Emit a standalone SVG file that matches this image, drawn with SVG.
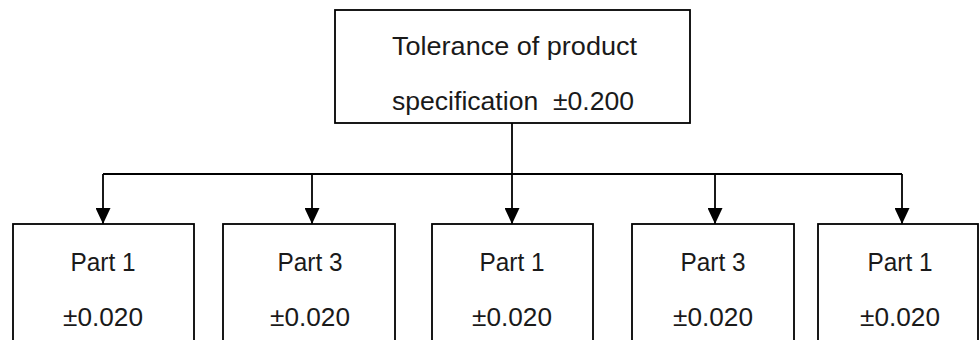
<svg xmlns="http://www.w3.org/2000/svg" width="979" height="340" viewBox="0 0 979 340">
  <style>
    .box { fill: none; stroke: #000; stroke-width: 1.8; }
    .wire { fill: none; stroke: #000; stroke-width: 1.8; }
    .lbl { font-family: "Liberation Sans", Arial, sans-serif; fill: #1a1a1a; white-space: pre; }
    .top { font-size: 26px; }
    .part { font-size: 25px; text-anchor: middle; }
  </style>
  <defs>
    <!-- filled triangle pointing along the line direction -->
    <marker id="arrow" viewBox="0 0 16 15" refX="16" refY="7.5" markerWidth="16" markerHeight="15" markerUnits="userSpaceOnUse" orient="auto">
      <path d="M0,0 L16,7.5 L0,15 Z" fill="#000"/>
    </marker>
  </defs>
  <rect width="979" height="340" fill="#fff"/>

  <!-- connectors: trunk, bus and five drops -->
  <g id="connectors">
    <line class="wire" x1="512" y1="123" x2="512" y2="174"/>
    <line class="wire" x1="103" y1="174" x2="902" y2="174"/>
    <path class="wire" d="M103,174 V224" marker-end="url(#arrow)"/>
    <path class="wire" d="M312,174 V224" marker-end="url(#arrow)"/>
    <path class="wire" d="M512,174 V224" marker-end="url(#arrow)"/>
    <path class="wire" d="M715,174 V224" marker-end="url(#arrow)"/>
    <path class="wire" d="M902,174 V224" marker-end="url(#arrow)"/>
  </g>

  <g id="product">
    <rect class="box" x="335" y="10" width="355" height="113"/>
    <text class="lbl top" x="392" y="55" textLength="245" lengthAdjust="spacingAndGlyphs">Tolerance of product</text>
    <text class="lbl top" x="392" y="110" textLength="242" lengthAdjust="spacingAndGlyphs">specification  ±0.200</text>
  </g>

  <g id="part-a">
    <rect class="box" x="13" y="224" width="181" height="130"/>
    <text class="lbl part" x="103" y="271" textLength="65" lengthAdjust="spacingAndGlyphs">Part 1</text>
    <text class="lbl part" x="103" y="326" textLength="80" lengthAdjust="spacingAndGlyphs">±0.020</text>
  </g>

  <g id="part-b">
    <rect class="box" x="223" y="224" width="172" height="130"/>
    <text class="lbl part" x="310" y="271" textLength="65" lengthAdjust="spacingAndGlyphs">Part 3</text>
    <text class="lbl part" x="310" y="326" textLength="80" lengthAdjust="spacingAndGlyphs">±0.020</text>
  </g>

  <g id="part-c">
    <rect class="box" x="432" y="224" width="161" height="130"/>
    <text class="lbl part" x="512" y="271" textLength="65" lengthAdjust="spacingAndGlyphs">Part 1</text>
    <text class="lbl part" x="512" y="326" textLength="80" lengthAdjust="spacingAndGlyphs">±0.020</text>
  </g>

  <g id="part-d">
    <rect class="box" x="632" y="224" width="162" height="130"/>
    <text class="lbl part" x="713" y="271" textLength="65" lengthAdjust="spacingAndGlyphs">Part 3</text>
    <text class="lbl part" x="713" y="326" textLength="80" lengthAdjust="spacingAndGlyphs">±0.020</text>
  </g>

  <g id="part-e">
    <rect class="box" x="818" y="224" width="160" height="130"/>
    <text class="lbl part" x="900" y="271" textLength="65" lengthAdjust="spacingAndGlyphs">Part 1</text>
    <text class="lbl part" x="900" y="326" textLength="80" lengthAdjust="spacingAndGlyphs">±0.020</text>
  </g>
</svg>
